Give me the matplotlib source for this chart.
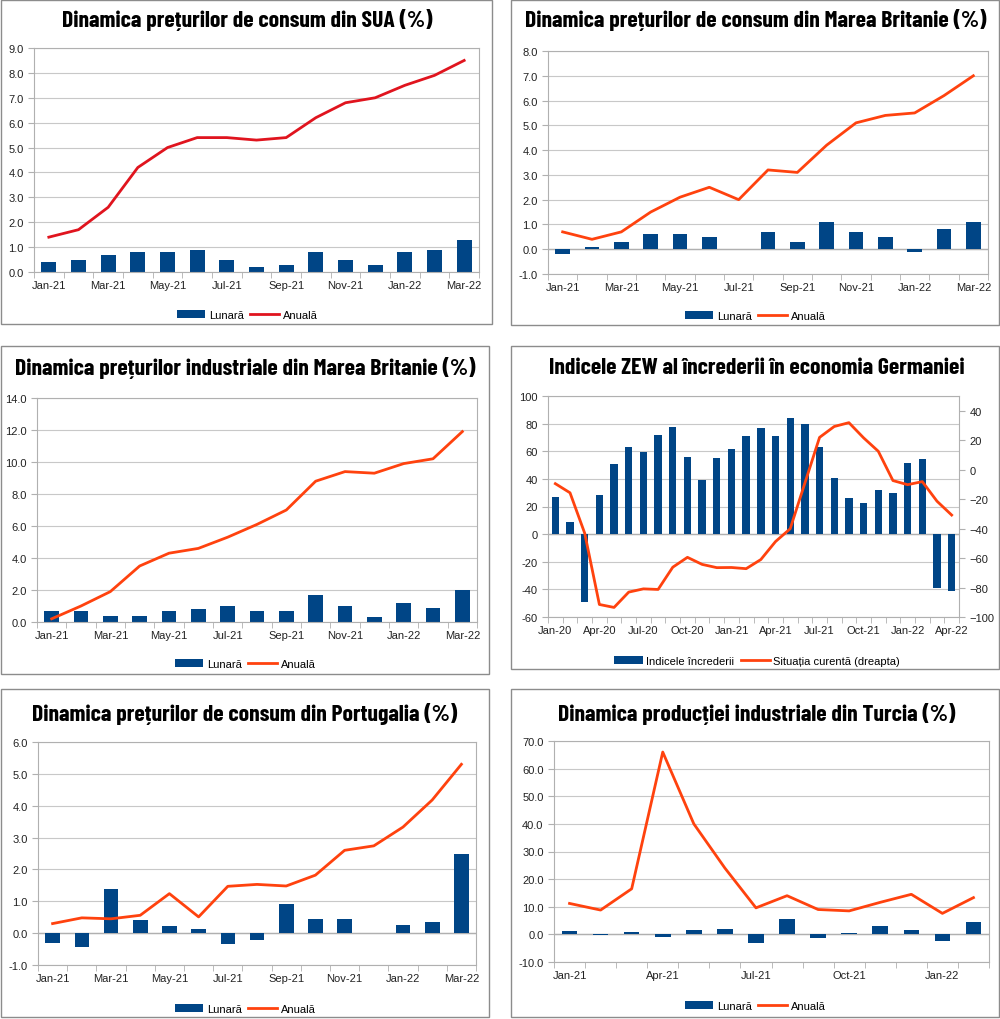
import matplotlib
matplotlib.use("Agg")
import matplotlib.pyplot as plt
from matplotlib.patches import Rectangle
from matplotlib.ticker import FixedLocator, FuncFormatter
from matplotlib import font_manager as fm
import numpy as np

plt.rcParams['font.family'] = ['Liberation Sans', 'DejaVu Sans']

# ---------------- data ----------------
months_21_22 = ["Jan-21", "Feb-21", "Mar-21", "Apr-21", "May-21", "Jun-21", "Jul-21", "Aug-21",
                "Sep-21", "Oct-21", "Nov-21", "Dec-21", "Jan-22", "Feb-22", "Mar-22"]

us_monthly = [0.4, 0.5, 0.7, 0.8, 0.8, 0.9, 0.5, 0.2, 0.3, 0.8, 0.5, 0.3, 0.8, 0.9, 1.3]
us_annual = [1.4, 1.7, 2.6, 4.2, 5.0, 5.4, 5.4, 5.3, 5.4, 6.2, 6.8, 7.0, 7.5, 7.9, 8.5]

uk_cpi_monthly = [-0.2, 0.1, 0.3, 0.6, 0.6, 0.5, 0.0, 0.7, 0.3, 1.1, 0.7, 0.5, -0.1, 0.8, 1.1]
uk_cpi_annual = [0.7, 0.4, 0.7, 1.5, 2.1, 2.5, 2.0, 3.2, 3.1, 4.2, 5.1, 5.4, 5.5, 6.2, 7.0]

uk_ppi_monthly = [0.7, 0.7, 0.4, 0.4, 0.7, 0.8, 1.0, 0.7, 0.7, 1.7, 1.0, 0.3, 1.2, 0.9, 2.0]
uk_ppi_annual = [0.2, 1.0, 1.9, 3.5, 4.3, 4.6, 5.3, 6.1, 7.0, 8.8, 9.4, 9.3, 9.9, 10.2, 11.9]

zew_months = ["Jan-20", "Feb-20", "Mar-20", "Apr-20", "May-20", "Jun-20", "Jul-20", "Aug-20",
              "Sep-20", "Oct-20", "Nov-20", "Dec-20", "Jan-21", "Feb-21", "Mar-21", "Apr-21",
              "May-21", "Jun-21", "Jul-21", "Aug-21", "Sep-21", "Oct-21", "Nov-21", "Dec-21",
              "Jan-22", "Feb-22", "Mar-22", "Apr-22"]
zew_expectations = [26.7, 8.7, -49.5, 28.2, 51.0, 63.4, 59.3, 71.5, 77.4, 56.1, 39.0, 55.0,
                    61.8, 71.2, 76.6, 70.7, 84.4, 79.8, 63.3, 40.4, 26.5, 22.3, 31.7, 29.9,
                    51.7, 54.3, -39.3, -41.0]
zew_current = [-9.5, -15.7, -43.1, -91.5, -93.5, -83.1, -80.9, -81.3, -66.2, -59.5, -64.3, -66.5,
               -66.4, -67.2, -61.0, -48.8, -40.1, -9.1, 21.9, 29.3, 31.9, 21.6, 12.5, -7.4,
               -10.2, -8.1, -21.4, -30.8]

pt_monthly = [-0.3, -0.45, 1.4, 0.42, 0.22, 0.13, -0.35, -0.2, 0.9, 0.44, 0.44, -0.01, 0.27, 0.36, 2.5]
pt_annual = [0.3, 0.48, 0.45, 0.56, 1.24, 0.51, 1.47, 1.53, 1.48, 1.82, 2.6, 2.74, 3.33, 4.18, 5.3]

tr_months = months_21_22[:14]
tr_monthly = [1.2, -0.1, 0.9, -0.8, 1.6, 2.1, -3.1, 5.5, -1.3, 0.6, 3.2, 1.5, -2.4, 4.3]
tr_annual = [11.2, 8.8, 16.5, 66.0, 40.0, 24.0, 9.6, 14.0, 9.0, 8.5, 11.6, 14.5, 7.6, 13.3]

titles = ["Dinamica prețurilor de consum din SUA (%)",
          "Dinamica prețurilor de consum din Marea Britanie (%)",
          "Dinamica prețurilor industriale din Marea Britanie (%)",
          "Indicele ZEW al încrederii în economia Germaniei",
          "Dinamica prețurilor de consum din Portugalia (%)",
          "Dinamica producției industriale din Turcia (%)"]
bar_label = "Lunară"
line_label = "Anuală"
zew_bar_label = "Indicele încrederii"
zew_line_label = "Situația curentă (dreapta)"

# ---------------- style ----------------
W, H = 1000, 1020
BLUE = "#004586"
ORANGE = "#ff420e"
RED = "#e0141e"
GRID = "#c8c8c8"
FRAME = "#b0b0b0"

# condensed bold title font if available, otherwise a smaller regular sans
TITLE_FONT = ['DejaVu Sans']
TITLE_SIZE = 12
for cand in ['Barlow Condensed', 'Asap Condensed', 'Liberation Sans Narrow', 'Archivo Narrow']:
    try:
        fm.findfont(fm.FontProperties(family=cand, weight='bold'), fallback_to_default=False)
        TITLE_FONT = [cand, 'DejaVu Sans']
        TITLE_SIZE = 17
        break
    except Exception:
        pass

fig = plt.figure(figsize=(W / 100, H / 100), dpi=100)


def fx(x):
    return x / W


def fy(y):
    return 1 - y / H


def box(x0, y0, x1, y1):
    fig.patches.append(Rectangle((fx(x0), fy(y1)), fx(x1 - x0), (y1 - y0) / H,
                                 transform=fig.transFigure, fill=False,
                                 edgecolor="#8c8c8c", lw=1.0))


def make_ax(x0, y0, x1, y1):
    return fig.add_axes([fx(x0), fy(y1), fx(x1 - x0), (y1 - y0) / H])


def style_ax(ax, cats, ylim, ystep, step, fmt, zero_line=True):
    n = len(cats)
    ax.set_xlim(-0.5, n - 0.5)
    ax.set_ylim(*ylim)
    yt = np.arange(ylim[0], ylim[1] + ystep / 2, ystep)
    ax.set_yticks(yt)
    ax.yaxis.set_major_formatter(FuncFormatter(lambda v, p: fmt.format(v)))
    ax.xaxis.set_major_locator(FixedLocator(list(range(0, n, step))))
    ax.set_xticklabels([cats[i] for i in range(0, n, step)])
    ax.xaxis.set_minor_locator(FixedLocator([i - 0.5 for i in range(n + 1)]))
    ax.tick_params(axis='x', which='major', length=0, labelsize=8, pad=6, colors="#222222")
    ax.tick_params(axis='x', which='minor', length=4, color=FRAME, direction='out')
    ax.tick_params(axis='y', length=4, color=FRAME, labelsize=8, colors="#222222")
    ax.tick_params(axis='y', color=FRAME)
    ax.grid(axis='y', color=GRID, lw=0.8)
    ax.set_axisbelow(True)
    for s in ax.spines.values():
        s.set_color(FRAME)
        s.set_linewidth(0.8)
    if zero_line and ylim[0] < 0:
        ax.axhline(0, color=FRAME, lw=1.0, zorder=1)


def legend(ax, handles, labels, cx, cy):
    ax.legend(handles, labels, loc='center', bbox_to_anchor=(fx(cx), fy(cy)),
              bbox_transform=fig.transFigure, ncol=2, frameon=False, fontsize=8,
              handlelength=2.6, handletextpad=0.3, columnspacing=0.6)


def title(cx, cy, text):
    fig.text(fx(cx), fy(cy), text, ha='center', va='center', fontsize=TITLE_SIZE,
             fontweight='bold', family=TITLE_FONT)


def bar_line_panel(rect, cats, monthly, annual, ylim, ystep, step, lc, ttl, tpos, lpos):
    ax = make_ax(*rect)
    style_ax(ax, cats, ylim, ystep, step, "{:.1f}")
    x = np.arange(len(cats))
    b = ax.bar(x, monthly, width=0.5, color=BLUE, zorder=2)
    l, = ax.plot(x, annual, color=lc, lw=2.0, zorder=3)
    legend(ax, [b, l], [bar_label, line_label], *lpos)
    title(*tpos, ttl)
    return ax


# panel boxes
box(1, 1, 492, 325)
box(511, 1, 999, 326)
box(1, 347, 489, 675)
box(511, 347, 999, 670)
box(1, 690, 489, 1018)
box(511, 690, 999, 1018)

bar_line_panel((34, 49, 479, 273), months_21_22, us_monthly, us_annual, (0, 9), 1.0, 2,
               RED, titles[0], (247, 20), (247, 316))
bar_line_panel((548, 52, 988, 275), months_21_22, uk_cpi_monthly, uk_cpi_annual, (-1, 8), 1.0, 2,
               ORANGE, titles[1], (756, 20), (755, 317))
bar_line_panel((37, 399, 477, 623), months_21_22, uk_ppi_monthly, uk_ppi_annual, (0, 14), 2.0, 2,
               ORANGE, titles[2], (245, 368), (245, 665))
bar_line_panel((38, 743, 476, 966), months_21_22, pt_monthly, pt_annual, (-1, 6), 1.0, 2,
               ORANGE, titles[4], (245, 714), (245, 1010))
bar_line_panel((554, 742, 989, 963), tr_months, tr_monthly, tr_annual, (-10, 70), 10.0, 3,
               ORANGE, titles[5], (757, 714), (755, 1007))

# ZEW panel
ax = make_ax(548, 397, 959, 618)
style_ax(ax, zew_months, (-60, 100), 20, 3, "{:.0f}")
x = np.arange(len(zew_months))
b = ax.bar(x, zew_expectations, width=0.5, color=BLUE, zorder=2)
ax2 = ax.twinx()
ax2.set_ylim(-100, 50)
ax2.set_yticks(np.arange(-100, 41, 20))
ax2.tick_params(axis='y', length=4, color=FRAME, labelsize=8, colors="#222222")
for s in ax2.spines.values():
    s.set_visible(False)
l, = ax2.plot(x, zew_current, color=ORANGE, lw=2.0, zorder=3)
legend(ax, [b, l], [zew_bar_label, zew_line_label], 757, 662)
title(757, 368, titles[3])

fig.savefig("out.png", dpi=100)
